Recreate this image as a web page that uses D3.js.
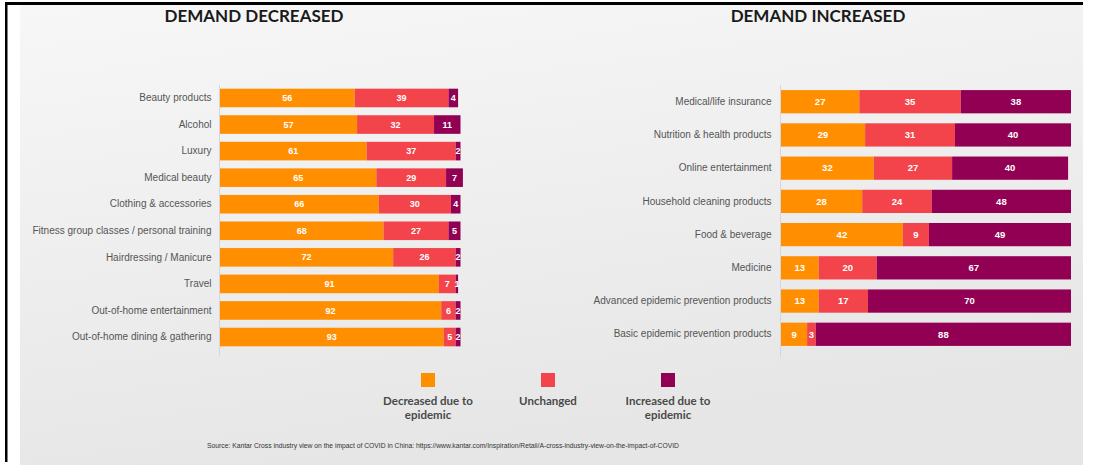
<!DOCTYPE html>
<html>
<head>
<meta charset="utf-8">
<script src="https://cdn.jsdelivr.net/npm/d3@7"></script>
<style>
  html, body { margin: 0; padding: 0; background: #fff; }
  svg { display: block; }
</style>
</head>
<body>
<svg id="chart" width="1093" height="465"></svg>
<script>
// ---- Data ----
const leftCategories = ["Beauty products", "Alcohol", "Luxury", "Medical beauty", "Clothing & accessories",
  "Fitness group classes / personal training", "Hairdressing / Manicure", "Travel",
  "Out-of-home entertainment", "Out-of-home dining & gathering"];
const leftDecreased = [56, 57, 61, 65, 66, 68, 72, 91, 92, 93];
const leftUnchanged = [39, 32, 37, 29, 30, 27, 26, 7, 6, 5];
const leftIncreased = [4, 11, 2, 7, 4, 5, 2, 1, 2, 2];

const rightCategories = ["Medical/life insurance", "Nutrition & health products", "Online entertainment",
  "Household cleaning products", "Food & beverage", "Medicine",
  "Advanced epidemic prevention products", "Basic epidemic prevention products"];
const rightDecreased = [27, 29, 32, 28, 42, 13, 13, 9];
const rightUnchanged = [35, 31, 27, 24, 9, 20, 17, 3];
const rightIncreased = [38, 40, 40, 48, 49, 67, 70, 88];

const seriesNames = ["Decreased due to epidemic", "Unchanged", "Increased due to epidemic"];
const legendLines = [["Decreased due to", "epidemic"], ["Unchanged"], ["Increased due to", "epidemic"]];
const titles = ["DEMAND DECREASED", "DEMAND INCREASED"];
const sourceText = "Source: Kantar Cross industry view on the impact of COVID in China: https://www.kantar.com/Inspiration/Retail/A-cross-industry-view-on-the-impact-of-COVID";

const colors = ["#FF8F00", "#F2444A", "#920054"];

// ---- Frame ----
const svg = d3.select("#chart");
const defs = svg.append("defs");
const grad = defs.append("linearGradient").attr("id", "bg").attr("x1", 0).attr("y1", 0).attr("x2", 0.3).attr("y2", 1);
grad.append("stop").attr("offset", "0%").attr("stop-color", "#f7f7f7");
grad.append("stop").attr("offset", "100%").attr("stop-color", "#e6e6e6");

svg.append("rect").attr("x", 20).attr("y", 5).attr("width", 1063).attr("height", 460).attr("fill", "url(#bg)");
svg.append("rect").attr("x", 5).attr("y", 2).attr("width", 1078).attr("height", 3).attr("fill", "#000");
svg.append("rect").attr("x", 5).attr("y", 2).attr("width", 2.5).attr("height", 460).attr("fill", "#000");

// ---- Panels ----
function drawPanel(cfg) {
  const x = d3.scaleLinear().domain([0, 100]).range(cfg.xRange);
  const y = d3.scaleBand().domain(cfg.categories).range(cfg.yRange).paddingInner(0.3).paddingOuter(0.15);
  const stackData = cfg.categories.map((c, i) => {
    const vals = [cfg.dec[i], cfg.unc[i], cfg.inc[i]];
    const o = { cat: c };
    seriesNames.forEach((s, k) => o[s] = vals[k]);
    return o;
  });
  const stacked = d3.stack().keys(seriesNames)(stackData);

  const g = svg.append("g");
  const axis = d3.axisLeft(y).tickSize(0).tickPadding(cfg.pad);
  const ag = g.append("g").attr("transform", `translate(${cfg.xRange[0] - 0.5},0)`).call(axis);
  ag.select(".domain").attr("stroke", "#d6d6d6").attr("d", `M0,${cfg.yRange[0]}V${cfg.yRange[1] + 6}`);
  ag.selectAll("text").attr("fill", "#555").style("font-family", "Liberation Sans, Arial, sans-serif")
    .style("font-size", cfg.labelSize + "px");

  stacked.forEach((layer, k) => {
    const lg = g.append("g");
    lg.selectAll("rect").data(layer).enter().append("rect")
      .attr("x", d => x(d[0]))
      .attr("y", d => y(d.data.cat))
      .attr("width", d => x(d[1]) - x(d[0]))
      .attr("height", y.bandwidth())
      .attr("fill", colors[k]);
    lg.selectAll("text").data(layer).enter().append("text")
      .attr("x", d => (x(d[0]) + x(d[1])) / 2)
      .attr("y", d => y(d.data.cat) + y.bandwidth() / 2)
      .attr("dy", "0.35em")
      .attr("text-anchor", "middle")
      .attr("fill", "#fff")
      .style("font-family", "Liberation Sans, Arial, sans-serif")
      .style("font-size", cfg.valueSize + "px")
      .style("font-weight", "bold")
      .text(d => d[1] - d[0]);
  });

  svg.append("text").attr("x", cfg.titleX).attr("y", 22).attr("text-anchor", "middle")
    .style("font-family", "Lato, sans-serif").style("font-weight", "bold").style("font-size", "17px")
    .attr("fill", "#1a1a1a").text(cfg.title);
}

drawPanel({
  categories: leftCategories, dec: leftDecreased, unc: leftUnchanged, inc: leftIncreased,
  xRange: [220, 460.5], yRange: [84.7, 350.3], pad: 8, labelSize: 10, valueSize: 9,
  title: titles[0], titleX: 254
});
drawPanel({
  categories: rightCategories, dec: rightDecreased, unc: rightUnchanged, inc: rightIncreased,
  xRange: [781, 1071], yRange: [85.1, 350.9], pad: 9, labelSize: 10, valueSize: 9.5,
  title: titles[1], titleX: 818
});

// ---- Legend ----
const legendX = [428, 548, 668];
const lg = svg.append("g");
seriesNames.forEach((s, k) => {
  lg.append("rect").attr("x", legendX[k] - 7).attr("y", 373).attr("width", 14).attr("height", 14).attr("fill", colors[k]);
  legendLines[k].forEach((line, j) => {
    lg.append("text").attr("x", legendX[k]).attr("y", 404.5 + j * 14).attr("text-anchor", "middle")
      .style("font-family", "Lato, sans-serif").style("font-weight", "bold").style("font-size", "11.5px")
      .attr("fill", "#4a4a4a").text(line);
  });
});

// ---- Source ----
svg.append("text").attr("x", 207).attr("y", 448)
  .style("font-family", "Liberation Sans, Arial, sans-serif").style("font-size", "6.75px")
  .attr("fill", "#333").text(sourceText);
</script>
</body>
</html>
